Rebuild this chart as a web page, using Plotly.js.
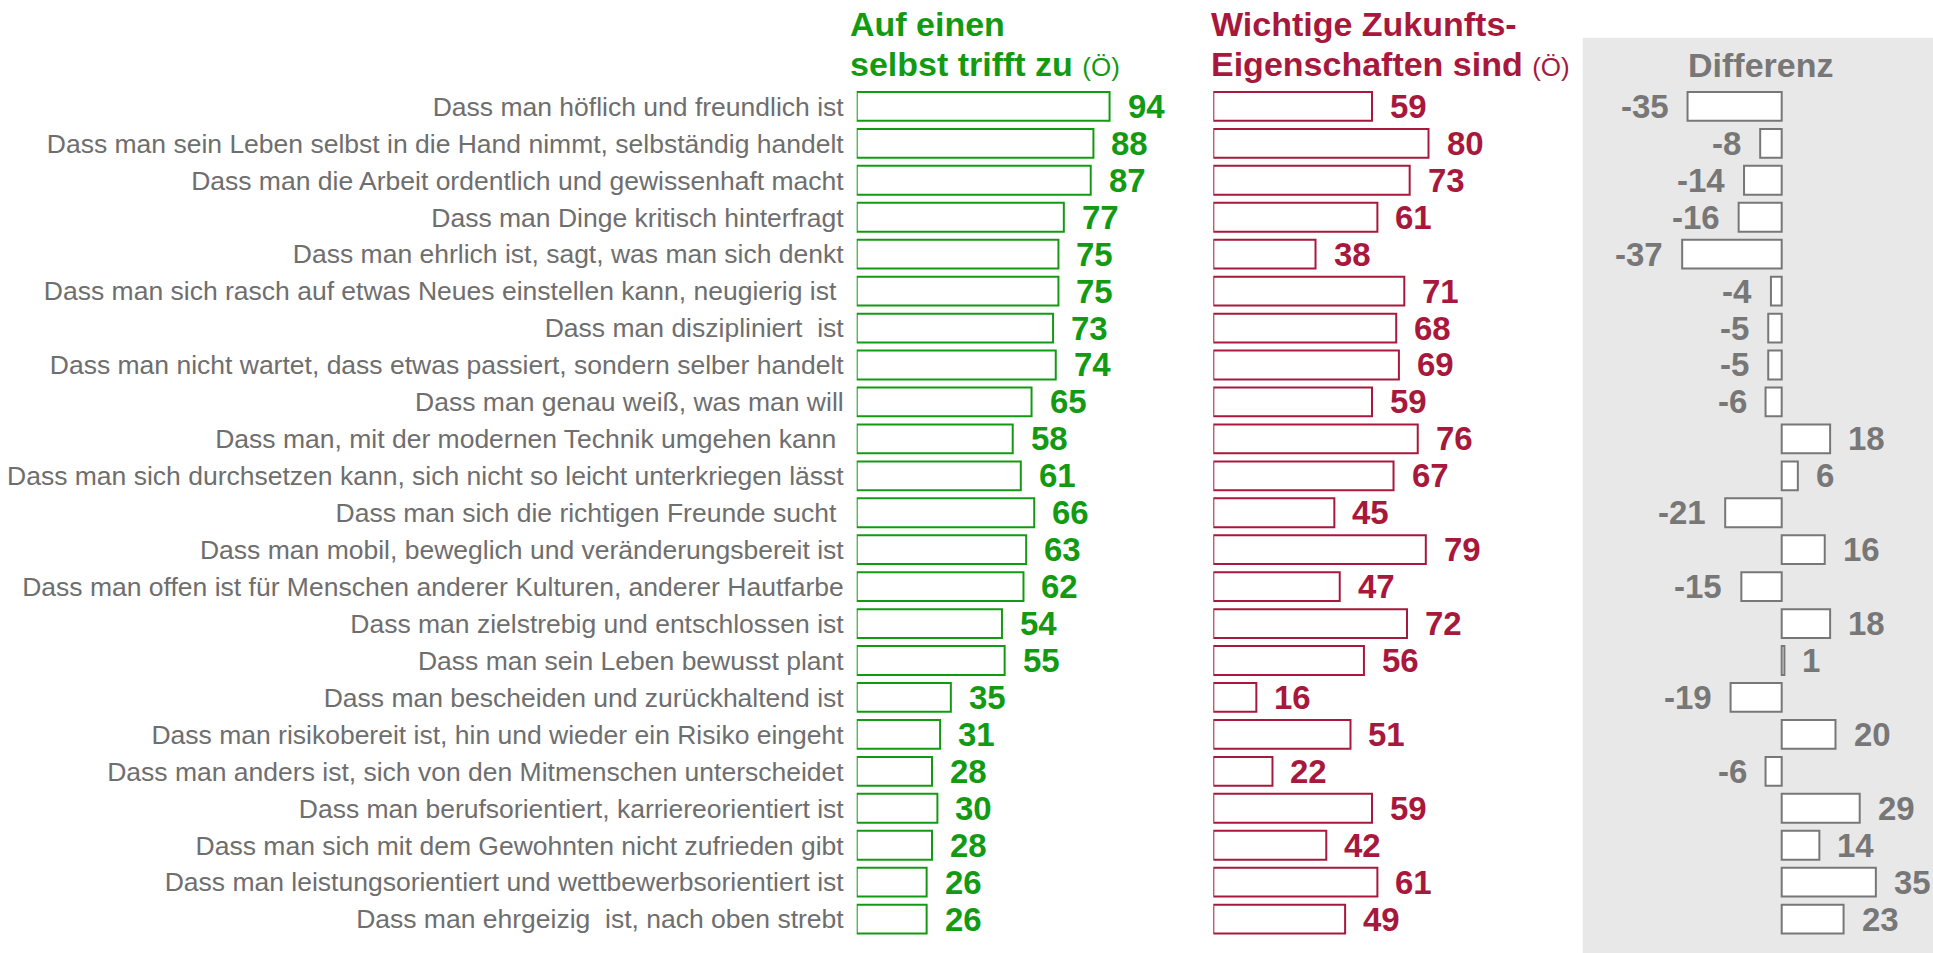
<!DOCTYPE html>
<html>
<head>
<meta charset="utf-8">
<script src="https://cdn.plot.ly/plotly-3.0.1.min.js"></script>
<style>html,body{margin:0;padding:0;background:#fff;} #chart{width:1933px;height:953px;}</style>
</head>
<body>
<div id="chart"></div>
<script>
const categories = [
  "Dass man höflich und freundlich ist",
  "Dass man sein Leben selbst in die Hand nimmt, selbständig handelt",
  "Dass man die Arbeit ordentlich und gewissenhaft macht",
  "Dass man Dinge kritisch hinterfragt",
  "Dass man ehrlich ist, sagt, was man sich denkt",
  "Dass man sich rasch auf etwas Neues einstellen kann, neugierig ist ",
  "Dass man diszipliniert  ist",
  "Dass man nicht wartet, dass etwas passiert, sondern selber handelt",
  "Dass man genau weiß, was man will",
  "Dass man, mit der modernen Technik umgehen kann ",
  "Dass man sich durchsetzen kann, sich nicht so leicht unterkriegen lässt",
  "Dass man sich die richtigen Freunde sucht ",
  "Dass man mobil, beweglich und veränderungsbereit ist",
  "Dass man offen ist für Menschen anderer Kulturen, anderer Hautfarbe",
  "Dass man zielstrebig und entschlossen ist",
  "Dass man sein Leben bewusst plant",
  "Dass man bescheiden und zurückhaltend ist",
  "Dass man risikobereit ist, hin und wieder ein Risiko eingeht",
  "Dass man anders ist, sich von den Mitmenschen unterscheidet",
  "Dass man berufsorientiert, karriereorientiert ist",
  "Dass man sich mit dem Gewohnten nicht zufrieden gibt",
  "Dass man leistungsorientiert und wettbewerbsorientiert ist",
  "Dass man ehrgeizig  ist, nach oben strebt"
];
const selbst = [94,88,87,77,75,75,73,74,65,58,61,66,63,62,54,55,35,31,28,30,28,26,26];
const zukunft = [59,80,73,61,38,71,68,69,59,76,67,45,79,47,72,56,16,51,22,59,42,61,49];
const differenz = [-35,-8,-14,-16,-37,-4,-5,-5,-6,18,6,-21,16,-15,18,1,-19,20,-6,29,14,35,23];

const titleSelbst = ["Auf einen", "selbst trifft zu"];
const titleZukunft = ["Wichtige Zukunfts-", "Eigenschaften sind"];
const titleUnit = "(Ö)";
const titleDiff = "Differenz";

const GREEN = "#139a13", RED = "#a8183c", GREY = "#777777", LABEL = "#6e6e6e", PANEL = "#e8e8e8";
const FONT = "Liberation Sans, Arial, sans-serif";
const W = 1933, H = 953;
const px = v => v / W, py = v => 1 - v / H;

function barTrace(vals, color, xa) {
  return {
    type: "bar", orientation: "h", x: vals, y: categories, xaxis: xa, yaxis: "y",
    marker: {color: "#ffffff", line: {color: color, width: 2}},
    hoverinfo: "x+y", showlegend: false
  };
}

const data = [
  barTrace(selbst, GREEN, "x"),
  barTrace(zukunft, RED, "x2"),
  barTrace(differenz, GREY, "x3")
];

const annotations = [];
function addLabels(vals, color, xref) {
  vals.forEach((v, i) => {
    const neg = v < 0;
    annotations.push({
      x: v, y: categories[i], xref: xref, yref: "y",
      text: "<b>" + v + "</b>", showarrow: false,
      xanchor: neg ? "right" : "left", yanchor: "middle",
      xshift: neg ? -17 : 16, yshift: 0,
      font: {family: FONT, size: 33, color: color}
    });
  });
}
addLabels(selbst, GREEN, "x");
addLabels(zukunft, RED, "x2");
addLabels(differenz, GREY, "x3");

function titleLine(text, x, y, color, unit) {
  let t = "<b>" + text + "</b>";
  if (unit) t += " <span style='font-size:26px'>" + unit + "</span>";
  annotations.push({
    xref: "paper", yref: "paper", x: px(x), y: py(y), xanchor: "left", yanchor: "middle",
    text: t, showarrow: false, align: "left",
    font: {family: FONT, size: 34, color: color}
  });
}
titleLine(titleSelbst[0], 848, 24, GREEN);
titleLine(titleSelbst[1], 848, 64, GREEN, titleUnit);
titleLine(titleZukunft[0], 1209, 24, RED);
titleLine(titleZukunft[1], 1209, 64, RED, titleUnit);
annotations.push({
  xref: "paper", yref: "paper", x: px(1760), y: py(65), xanchor: "center", yanchor: "middle",
  text: "<b>" + titleDiff + "</b>", showarrow: false,
  font: {family: FONT, size: 34, color: GREY}
});

const axCommon = {showgrid: false, zeroline: false, showline: false, ticks: "", showticklabels: false, fixedrange: true};

const layout = {
  width: W, height: H, autosize: false,
  margin: {l: 0, r: 0, t: 0, b: 0, pad: 0},
  paper_bgcolor: "#ffffff", plot_bgcolor: "rgba(0,0,0,0)",
  bargap: 0.22,
  font: {family: FONT, color: LABEL},
  xaxis: Object.assign({}, axCommon, {domain: [px(856.7), px(1125.7)], range: [0, 100], anchor: "y"}),
  xaxis2: Object.assign({}, axCommon, {domain: [px(1213.3), px(1482.3)], range: [0, 100], anchor: "y"}),
  xaxis3: Object.assign({}, axCommon, {domain: [px(1674.1), px(1889.3)], range: [-40, 40], anchor: "y"}),
  yaxis: {
    domain: [1 - 939.6 / H, 1 - 85.9 / H], anchor: "x", autorange: "reversed",
    showgrid: false, zeroline: false, showline: false, ticks: "",
    tickfont: {family: FONT, size: 26.5, color: LABEL}, ticklabelstandoff: 12, fixedrange: true
  },
  shapes: [{
    type: "rect", xref: "paper", yref: "paper", layer: "below",
    x0: px(1582.7), x1: 1, y0: 0, y1: py(37.7),
    fillcolor: PANEL, line: {width: 0}
  }],
  annotations: annotations
};

Plotly.newPlot("chart", data, layout, {displayModeBar: false, staticPlot: true});
</script>
</body>
</html>
